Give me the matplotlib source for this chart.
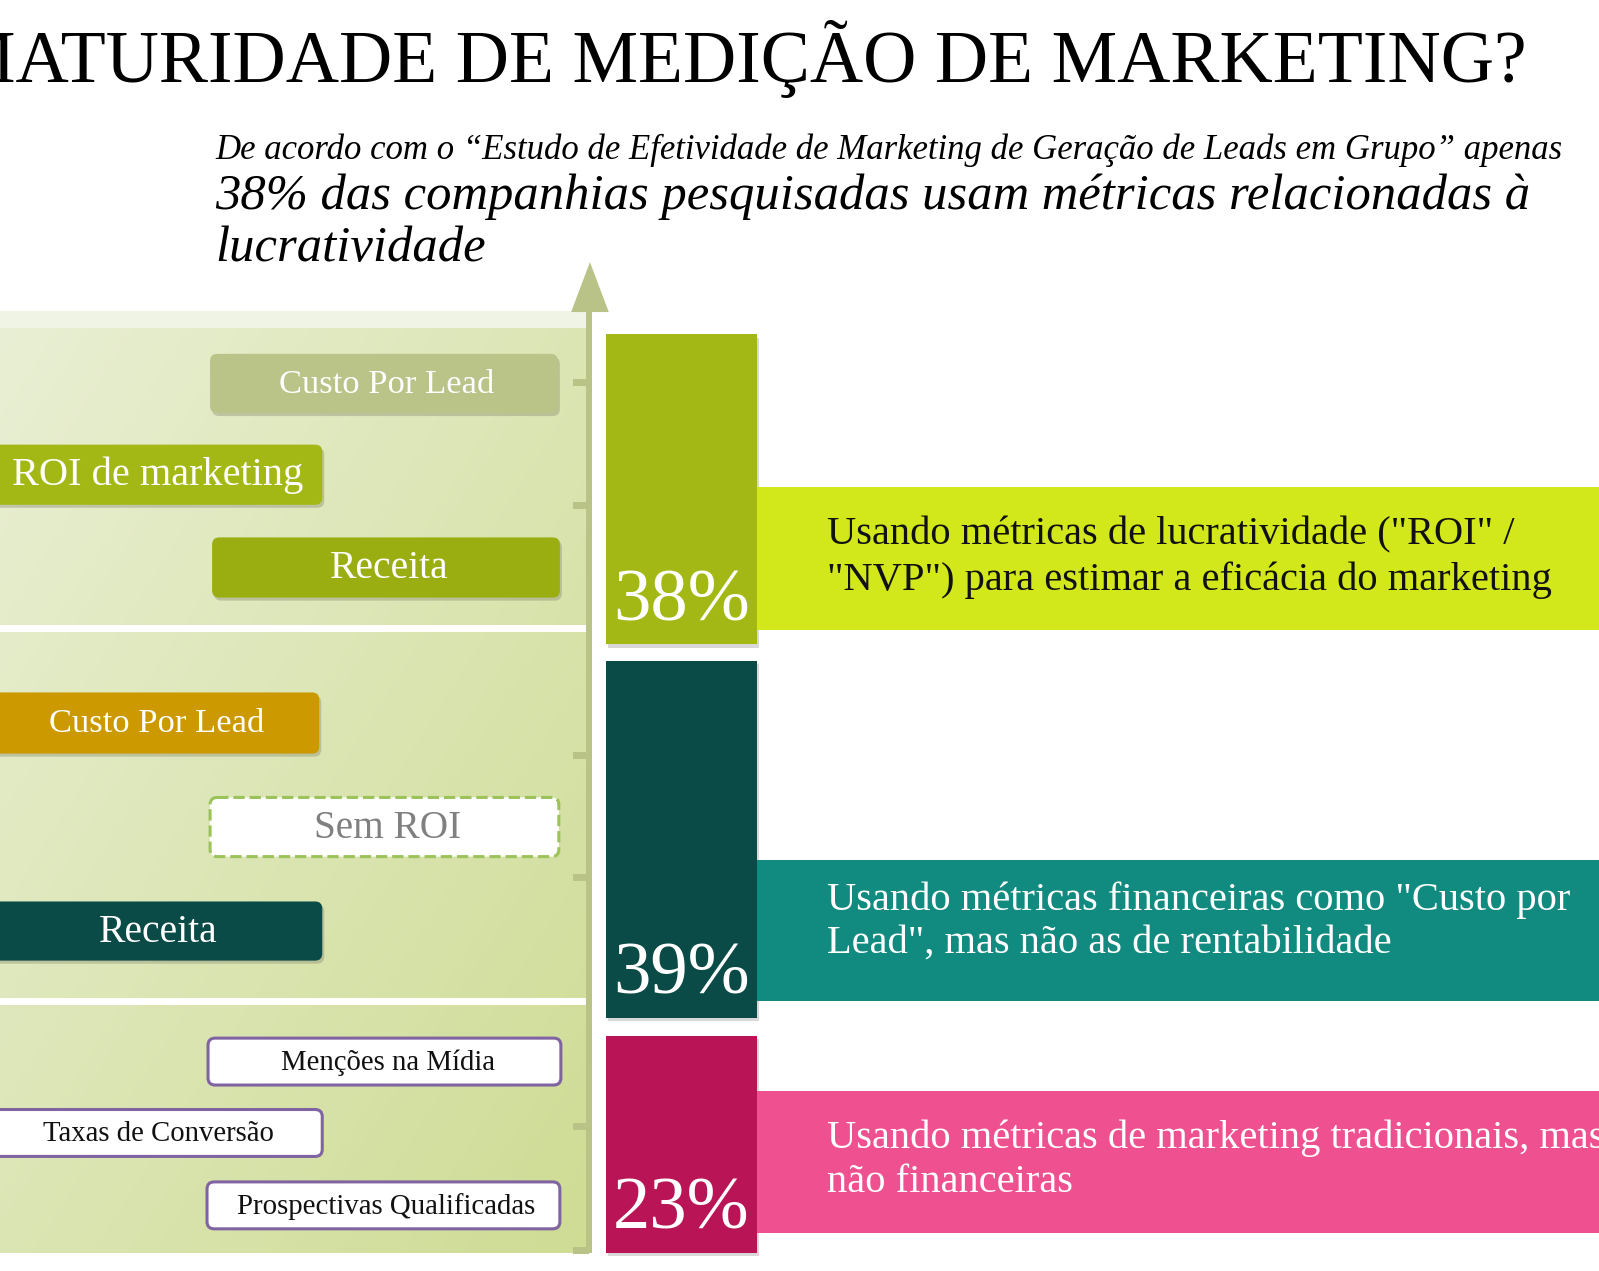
"""
Infographic: maturidade de medição de marketing (38% / 39% / 23%).
Saved as out.png
"""
import matplotlib
matplotlib.use('Agg')
import matplotlib.pyplot as plt
import numpy as np
from matplotlib.patches import FancyBboxPatch, Rectangle, Polygon
from matplotlib.colors import to_rgb

# ── Data ────────────────────────────────────────────────────────────────────
title = 'MATURIDADE DE MEDIÇÃO DE MARKETING?'
sub_line1 = 'De acordo com o “Estudo de Efetividade de Marketing de Geração de Leads em Grupo” apenas'
sub_lines2 = ['38% das companhias pesquisadas usam métricas relacionadas à', 'lucratividade']

shares = [38, 39, 23]
descriptions = [
    ['Usando métricas de lucratividade ("ROI" /', '"NVP") para estimar a eficácia do marketing'],
    ['Usando métricas financeiras como "Custo por', 'Lead", mas não as de rentabilidade'],
    ['Usando métricas de marketing tradicionais, mas', 'não financeiras'],
]
group_metrics = [
    ['Custo Por Lead', 'ROI de marketing', 'Receita'],
    ['Custo Por Lead', 'Sem ROI', 'Receita'],
    ['Menções na Mídia', 'Taxas de Conversão', 'Prospectivas Qualificadas'],
]

# ── Styles / layout (layout units, y down; 1568 units across the figure) ─────
FONT = 'Liberation Serif'
bar_colors = ['#a3b814', '#0a4a47', '#b91556']
band_colors = ['#d2e81a', '#118a80', '#ee5090']
band_text = ['#111111', 'white', 'white']
bar_spans = [(328, 632), (648, 998), (1016, 1229)]
band_spans = [(478, 618), (843, 982), (1070, 1209)]
desc_lines_y = [(524, 569), (883, 925), (1116, 1160)]

box_style = [
    [dict(fc='#bac388', ec='none', tc='white'),
     dict(fc='#a3b814', ec='none', tc='white'),
     dict(fc='#9aae12', ec='none', tc='white')],
    [dict(fc='#cc9a00', ec='none', tc='white'),
     dict(fc='white', ec='#9cc25a', tc='#808080', ls='--'),
     dict(fc='#0a4a47', ec='none', tc='white')],
    [dict(fc='white', ec='#8064a2', tc='#111111'),
     dict(fc='white', ec='#8064a2', tc='#111111'),
     dict(fc='white', ec='#8064a2', tc='#111111')],
]
box_geom = [
    [(206, 347, 341, 58), (-12, 436, 328, 59), (208, 527, 341, 59)],
    [(-12, 679, 325, 60), (206, 782, 342, 58), (-12, 884, 328, 58)],
    [(204, 1018, 346, 46), (-12, 1088, 328, 46), (203, 1159, 346, 46)],
]
label_width = [[210, 287, 117], [210, 145, 117], [210, 227, 293]]

W, H = 1599, 1271
UW = 1568
S = W / UW                      # pixels per layout unit
fig = plt.figure(figsize=(W / 100, H / 100), dpi=100)
ax = fig.add_axes([0, 0, 1, 1])
ax.set_xlim(0, UW)
ax.set_ylim(H / S, 0)
ax.axis('off')
renderer = fig.canvas.get_renderer()


def fit_size(s, width, **kw):
    """font size (pt) that makes text s span `width` layout units"""
    t = ax.text(0, 0, s, fontsize=20, family=FONT, **kw)
    w = t.get_window_extent(renderer).width
    t.remove()
    return 20 * width * S / w


# ── Left gradient panel ─────────────────────────────────────────────────────
c_tl, c_br = np.array(to_rgb('#e9efd4')), np.array(to_rgb('#cedc94'))
gx, gy = np.meshgrid(np.linspace(0, 1, 200), np.linspace(0, 1, 200))
tgrad = np.clip(0.5 * gx + 0.5 * gy, 0, 1)[..., None]
img = c_tl * (1 - tgrad) + c_br * tgrad
ax.imshow(img, extent=[0, 576, 1229, 322], aspect='auto', zorder=0)
ax.add_patch(Rectangle((0, 305), 576, 17, fc='#f0f4e4', ec='none', zorder=1))
ax.add_patch(Rectangle((0, 613), 576, 7, fc='white', ec='none', zorder=1))
ax.add_patch(Rectangle((0, 979), 576, 7, fc='white', ec='none', zorder=1))

# ── Vertical arrow axis with ticks ──────────────────────────────────────────
axis_c = '#bac387'
ax.add_patch(Rectangle((575, 300), 6, 929, fc=axis_c, ec='none', zorder=2))
ax.add_patch(Polygon([(560, 306), (597, 306), (578.5, 257)], fc=axis_c, ec='none', zorder=2))
for ty in [375, 495, 740, 860, 1104, 1226]:
    ax.add_patch(Rectangle((562, ty - 3), 16, 7, fc=axis_c, ec='none', zorder=2))

# ── Percentage bars and description bands ───────────────────────────────────
pct_size = fit_size('38%', 134)
desc_size = fit_size(descriptions[0][1], 713)
for i, pct in enumerate(shares):
    top, bot = bar_spans[i]
    ax.add_patch(Rectangle((596, top + 3), 148, bot - top, fc='#aaaaaa', ec='none',
                           alpha=0.45, zorder=2))
    ax.bar(668, bot - top, width=148, bottom=top, color=bar_colors[i], zorder=4)
    ax.text(601, bot - 24, f'{pct}%', fontsize=pct_size, family=FONT, color='white',
            ha='left', va='baseline', zorder=6)
    btop, bbot = band_spans[i]
    ax.add_patch(Rectangle((742, btop), UW - 742 + 5, bbot - btop, fc=band_colors[i],
                           ec='none', zorder=3))
    for line, ly in zip(descriptions[i], desc_lines_y[i]):
        ax.text(811, ly, line, fontsize=desc_size, family=FONT,
                color=band_text[i], ha='left', va='center', zorder=5)

# ── Metric boxes ─────────────────────────────────────────────────────────────
for g, labels in enumerate(group_metrics):
    for k, lab in enumerate(labels):
        x, y, w, h = box_geom[g][k]
        st = box_style[g][k]
        if st['fc'] != 'white':
            ax.add_patch(FancyBboxPatch((x + 2, y + 3), w, h, boxstyle='round,pad=0,rounding_size=7',
                                        fc='#8a8a70', ec='none', alpha=0.4, zorder=3))
        lw = 2.2 if st['ec'] != 'none' else 0
        ax.add_patch(FancyBboxPatch((x, y), w, h, boxstyle='round,pad=0,rounding_size=7',
                                    fc=st['fc'], ec=st['ec'], lw=lw,
                                    ls=st.get('ls', '-'), zorder=4))
        size = fit_size(lab, label_width[g][k])
        ax.text(x + w / 2 + 3, y + h / 2 + 1, lab, fontsize=size, family=FONT,
                color=st['tc'], ha='center', va='center', zorder=5)

# ── Titles ───────────────────────────────────────────────────────────────────
t_size = fit_size(title[1:], 1482)
ax.text(1497, 80, title, fontsize=t_size, family=FONT, color='black',
        ha='right', va='baseline')
s1 = fit_size(sub_line1, 1324, style='italic')
ax.text(211, 156, sub_line1, fontsize=s1, family=FONT, style='italic', ha='left', va='baseline')
s2 = fit_size(sub_lines2[0], 1286, style='italic')
for line, by in zip(sub_lines2, [205, 256]):
    ax.text(211, by, line, fontsize=s2, family=FONT, style='italic', ha='left', va='baseline')

plt.savefig('out.png', dpi=100, facecolor='white')
